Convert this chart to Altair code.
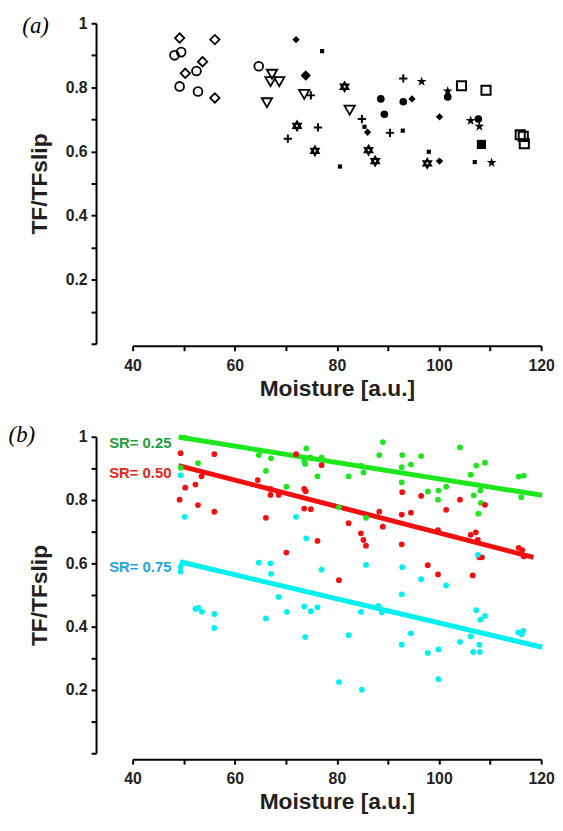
import altair as alt
import pandas as pd

FONT = "Liberation Sans"
INK = "#231f20"

# ---------------- Panel (a): marker groups ----------------
open_diamond_x = [49.2, 56.1, 53.7, 50.3, 56.1]
open_diamond_y = [0.954, 0.949, 0.880, 0.844, 0.767]
open_circle_x = [48.2, 49.5, 52.5, 49.2, 52.8, 64.7]
open_circle_y = [0.900, 0.910, 0.851, 0.803, 0.787, 0.866]
open_tri_x = [67.3, 68.7, 67.0, 66.3, 73.6, 82.5]
open_tri_y = [0.841, 0.818, 0.818, 0.752, 0.778, 0.729]
plus_x = [70.4, 74.9, 93.0, 76.3, 84.9, 90.4]
plus_y = [0.640, 0.775, 0.828, 0.675, 0.701, 0.658]
small_sq_x = [77.1, 80.6, 85.4, 92.9, 98.0, 107.0]
small_sq_y = [0.913, 0.553, 0.677, 0.665, 0.599, 0.567]
filled_diamond_x = [72.0, 94.7, 100.1, 86.0, 100.1]
filled_diamond_y = [0.949, 0.764, 0.708, 0.660, 0.570]
big_diamond_x = [73.9]
big_diamond_y = [0.837]
hexagram_x = [81.5, 72.2, 75.7, 86.2, 87.5, 97.7]
hexagram_y = [0.802, 0.680, 0.602, 0.604, 0.570, 0.563]
filled_circle_x = [88.6, 93.0, 89.3, 101.7, 107.7]
filled_circle_y = [0.764, 0.755, 0.716, 0.770, 0.701]
star_x = [96.6, 101.7, 106.2, 107.9, 110.3]
star_y = [0.818, 0.788, 0.696, 0.678, 0.565]
open_square_x = [104.4, 109.2, 115.9, 116.5, 116.7]
open_square_y = [0.805, 0.791, 0.652, 0.647, 0.624]
filled_square_x = [108.3]
filled_square_y = [0.622]

# ---------------- Panel (b): three SR series ----------------
sr_names = ["SR= 0.25", "SR= 0.50", "SR= 0.75"]
sr_point_colors = ["#1ee61e", "#f01010", "#00f0f0"]
sr_label_colors = ["#1f9e3c", "#e8241c", "#1fa6e0"]

g_x = [50.2, 49.4, 52.8, 64.7, 67.1, 66.1, 70.1, 74.0, 73.6, 73.8, 74.8, 77.0, 76.2, 82.3,
       84.7, 85.2, 88.3, 89.0, 92.8, 92.7, 94.5, 96.5, 92.7, 97.8, 99.9, 99.8, 101.4, 104.1,
       107.3, 109.0, 106.2, 106.8, 108.1, 108.2, 107.7, 115.6, 116.6, 116.1, 80.4, 85.7]
g_y = [0.997, 0.902, 0.917, 0.942, 0.932, 0.892, 0.842, 0.963, 0.923, 0.914, 0.935, 0.935, 0.875, 0.875,
       0.909, 0.887, 0.942, 0.983, 0.942, 0.904, 0.912, 0.939, 0.856, 0.827, 0.830, 0.801, 0.842, 0.966,
       0.909, 0.918, 0.880, 0.815, 0.830, 0.791, 0.757, 0.874, 0.877, 0.809, 0.777, 0.744]

r_x = [49.4, 56.0, 50.3, 52.3, 53.5, 49.2, 52.8, 56.0, 64.5, 66.1, 67.0, 67.0, 68.6, 70.1,
       72.0, 77.0, 73.6, 73.9, 73.6, 74.9, 76.2, 82.3, 80.4, 84.7, 85.2, 85.7, 88.3, 89.0,
       92.7, 92.8, 94.5, 96.5, 92.7, 97.8, 99.8, 99.8, 101.4, 104.1, 106.2, 107.2, 107.6,
       106.6, 107.9, 108.4, 109.0, 115.6, 116.3, 116.6]
r_y = [0.948, 0.945, 0.839, 0.849, 0.875, 0.801, 0.784, 0.763, 0.863, 0.744, 0.835, 0.816, 0.816, 0.634,
       0.945, 0.910, 0.835, 0.828, 0.773, 0.771, 0.671, 0.727, 0.547, 0.695, 0.674, 0.656, 0.763, 0.716,
       0.754, 0.825, 0.760, 0.813, 0.660, 0.594, 0.565, 0.705, 0.769, 0.801, 0.690, 0.698, 0.674,
       0.562, 0.619, 0.619, 0.785, 0.649, 0.642, 0.622]

c_x = [49.4, 50.2, 49.4, 49.4, 64.7, 67.0, 67.1, 68.6, 52.3, 52.9, 53.6, 56.0, 56.0, 66.1,
       70.2, 73.6, 74.9, 76.2, 73.8, 80.4, 82.3, 92.7, 88.1, 88.8, 84.7, 92.7, 94.5, 97.8,
       99.9, 99.9, 84.9, 104.1, 106.2, 106.7, 108.0, 107.9, 107.3, 109.0, 108.1, 115.5, 116.5,
       116.2, 72.0, 74.0, 77.0, 85.7, 92.8, 96.5, 101.4, 107.6]
c_y = [0.878, 0.747, 0.590, 0.574, 0.602, 0.600, 0.567, 0.494, 0.456, 0.459, 0.447, 0.440, 0.396, 0.426,
       0.447, 0.464, 0.449, 0.461, 0.367, 0.225, 0.373, 0.502, 0.466, 0.445, 0.447, 0.343, 0.379, 0.317,
       0.328, 0.234, 0.201, 0.352, 0.369, 0.320, 0.320, 0.343, 0.452, 0.434, 0.422, 0.382, 0.387,
       0.376, 0.747, 0.679, 0.580, 0.595, 0.588, 0.550, 0.530, 0.627]

# fitted lines (start / end)
fit_x0 = [49.0, 49.0, 49.3]
fit_x1 = [120.2, 118.5, 120.2]
fit_y0 = [0.999, 0.909, 0.605]
fit_y1 = [0.815, 0.619, 0.335]

# series labels (anchored at their right end)
label_x = [47.6, 47.6, 47.6]
label_y = [0.981, 0.886, 0.587]

# panel tags
tags = ["(a)", "(b)"]
tag_x = [21.0, 18.3]
tag_y = [0.991, 1.006]

# axes
x_ticks = list(range(40, 121, 10))
y_ticks = [round(i * 0.1, 1) for i in range(11)]

# marker outlines (unit symbols)
STAR = ("M0,-1L0.225,-0.309L0.951,-0.309L0.363,0.118L0.588,0.809L0,0.382"
        "L-0.588,0.809L-0.363,0.118L-0.951,-0.309L-0.225,-0.309Z")
HEXAGRAM = "M0,-1L0.866,0.5L-0.866,0.5ZM0,1L0.866,-0.5L-0.866,-0.5Z"
PLUS = "M-1,0L1,0M0,-1L0,1"

# ---------------- build ----------------
W, HA, HB = 413, 324, 320


def x_enc(offset):
    return alt.X(
        "x:Q",
        scale=alt.Scale(domain=[40, 120], nice=False, zero=False),
        axis=alt.Axis(
            values=x_ticks,
            labelExpr="datum.value % 20 == 0 ? datum.label : ''",
            labelFlush=False,
            title="Moisture [a.u.]",
            offset=offset,
            labelPadding=7,
            titlePadding=4,
        ),
    )


def y_enc():
    return alt.Y(
        "y:Q",
        scale=alt.Scale(domain=[0, 1], nice=False, zero=False),
        axis=alt.Axis(
            values=y_ticks,
            format=".1~f",
            labelExpr="(datum.label == '0.2' || datum.label == '0.4' || datum.label == '0.6' || datum.label == '0.8' || datum.label == '1') ? datum.label : ''",
            labelFlush=False,
            title="TF/TFslip",
            offset=37,
            labelPadding=4,
            titlePadding=14,
        ),
    )


groups = [
    (open_diamond_x, open_diamond_y, dict(shape="diamond", filled=False, size=90, strokeWidth=1.8)),
    (open_circle_x, open_circle_y, dict(shape="circle", filled=False, size=80, strokeWidth=1.8)),
    (open_tri_x, open_tri_y, dict(shape="triangle-down", filled=False, size=110, strokeWidth=1.8)),
    (plus_x, plus_y, dict(shape=PLUS, filled=False, size=70, strokeWidth=2)),
    (small_sq_x, small_sq_y, dict(shape="square", filled=True, size=18)),
    (filled_diamond_x, filled_diamond_y, dict(shape="diamond", filled=True, size=55)),
    (big_diamond_x, big_diamond_y, dict(shape="diamond", filled=True, size=110)),
    (hexagram_x, hexagram_y, dict(shape=HEXAGRAM, filled=False, size=70, strokeWidth=2.2)),
    (filled_circle_x, filled_circle_y, dict(shape="circle", filled=True, size=60)),
    (star_x, star_y, dict(shape=STAR, filled=True, size=110)),
    (open_square_x, open_square_y, dict(shape="square", filled=False, size=85, strokeWidth=2)),
    (filled_square_x, filled_square_y, dict(shape="square", filled=True, size=85)),
]

layers_a = []
for xs, ys, style in groups:
    df = pd.DataFrame({"x": xs, "y": ys})
    layers_a.append(
        alt.Chart(df).mark_point(color="black", opacity=1, **style).encode(x=x_enc(2), y=y_enc())
    )

tag_df_a = pd.DataFrame({"x": [tag_x[0]], "y": [tag_y[0]], "t": [tags[0]]})
tag_a = alt.Chart(tag_df_a).mark_text(
    font="Liberation Serif", fontStyle="italic", fontSize=23, color="black", align="center", baseline="middle"
).encode(text="t:N", x=x_enc(2), y=y_enc())

panel_a = alt.layer(*layers_a, tag_a).properties(width=W, height=HA)

# panel b
pts = pd.DataFrame({
    "x": g_x + r_x + c_x,
    "y": g_y + r_y + c_y,
    "s": [sr_names[0]] * len(g_x) + [sr_names[1]] * len(r_x) + [sr_names[2]] * len(c_x),
})
lines = pd.DataFrame({
    "x": [v for i in range(3) for v in (fit_x0[i], fit_x1[i])],
    "y": [v for i in range(3) for v in (fit_y0[i], fit_y1[i])],
    "s": [sr_names[i] for i in range(3) for _ in range(2)],
})
labels = pd.DataFrame({"x": label_x, "y": label_y, "s": sr_names})
tag_df_b = pd.DataFrame({"x": [tag_x[1]], "y": [tag_y[1]], "t": [tags[1]]})

col_pts = alt.Color("s:N", scale=alt.Scale(domain=sr_names, range=sr_point_colors), legend=None)

line_b = alt.Chart(lines).mark_line(strokeWidth=5).encode(x=x_enc(6), y=y_enc(), color=col_pts)
pts_b = alt.Chart(pts).mark_circle(size=34, opacity=1).encode(x=x_enc(6), y=y_enc(), color=col_pts)
lab_b = alt.Chart(labels).mark_text(
    font=FONT, fontWeight="bold", fontSize=15, align="right", baseline="middle"
).encode(
    x=x_enc(6), y=y_enc(), text="s:N",
    color=alt.Color("s:N", scale=alt.Scale(domain=sr_names, range=sr_label_colors), legend=None),
)
tag_b = alt.Chart(tag_df_b).mark_text(
    font="Liberation Serif", fontStyle="italic", fontSize=23, color="black", align="center", baseline="middle"
).encode(text="t:N", x=x_enc(6), y=y_enc())

panel_b = alt.layer(line_b, pts_b, lab_b, tag_b).resolve_scale(color="independent").properties(width=W, height=HB)

chart = alt.vconcat(panel_a, panel_b, spacing=24).properties(
    padding={"left": 0, "top": 2, "right": 0, "bottom": 0}
).configure_view(stroke=None).configure_axis(
    grid=False,
    domainColor="black",
    domainWidth=2,
    tickColor="black",
    tickWidth=2,
    tickSize=5,
    labelFont=FONT,
    labelFontWeight="bold",
    labelFontSize=16,
    labelColor=INK,
    titleFont=FONT,
    titleFontWeight="bold",
    titleFontSize=23,
    titleColor=INK,
)

chart.save("out.html", embed_options={"renderer": "svg", "actions": False})
